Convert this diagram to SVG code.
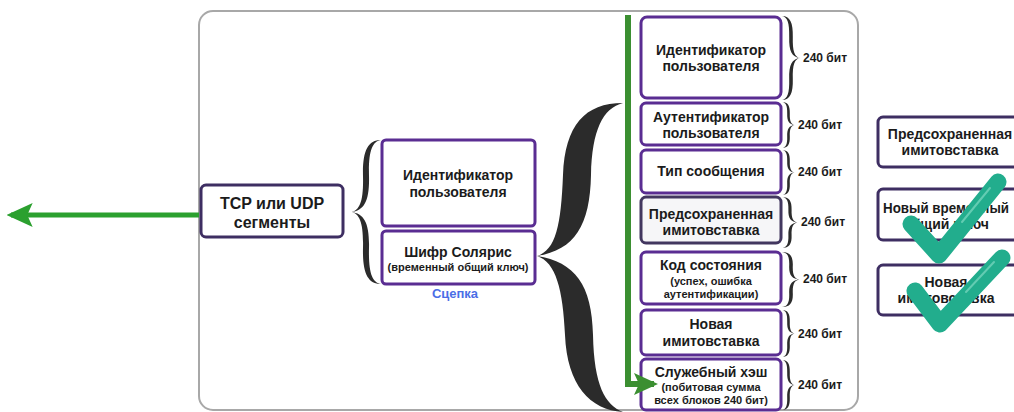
<svg xmlns="http://www.w3.org/2000/svg" width="1014" height="412" viewBox="0 0 1014 412">
  <defs>
    <style>
      .frame { fill: #ffffff; stroke: #a8a8a8; stroke-width: 2; }
      .box { fill: #ffffff; stroke: #5a2d92; stroke-width: 3; }
      .box-dark { fill: #ffffff; stroke: #3e2e62; stroke-width: 3; }
      .box-grey { fill: #f6f6f8; stroke: #42375f; stroke-width: 3; }
      .t { font-family: "Liberation Sans", Arial, sans-serif; font-weight: bold; fill: #1b1b1b; text-anchor: middle; }
      .t16 { font-size: 16px; }
      .t14 { font-size: 14px; }
      .t11 { font-size: 11px; }
      .bits { font-family: "Liberation Sans", Arial, sans-serif; font-weight: bold; font-size: 12px; fill: #1b1b1b; }
      .link { font-family: "Liberation Sans", Arial, sans-serif; font-weight: bold; font-size: 13px; fill: #4a6ee6; text-anchor: middle; }
      .brace { fill: #2b2b2b; }
      .check { fill: none; stroke: #22ad8d; stroke-width: 17; stroke-linecap: round; stroke-linejoin: round; }
      .shine { fill: none; stroke: #7fd8c2; stroke-width: 2; stroke-linecap: round; opacity: 0.7; }
    </style>
    <!-- right-facing curly brace in a 100x100 box, tip at (100,50) -->
    <path id="brace" d="M0,0 C45,0 62,8 60,25 C58,42 70,49 100,50 C70,51 58,58 60,75 C62,92 45,100 0,100 C30,99 42,92 40,75 C38,58 55,51 100,50 C55,49 38,42 40,25 C42,8 30,1 0,0 Z"/>
    <marker id="headLeft" viewBox="0 0 24 24" refX="20" refY="12" markerWidth="26" markerHeight="26" markerUnits="userSpaceOnUse" orient="auto">
      <path d="M0,1 L24,12 L0,23 L5,12 Z" fill="#2ba02f"/>
    </marker>
    <marker id="headDown" viewBox="0 0 24 24" refX="20" refY="12" markerWidth="24" markerHeight="24" markerUnits="userSpaceOnUse" orient="auto">
      <path d="M0,1 L24,12 L0,23 L5,12 Z" fill="#3b8f31"/>
    </marker>
  </defs>

  <rect width="1014" height="412" fill="#ffffff"/>

  <!-- enclosing frame -->
  <rect class="frame" x="199" y="11" width="659" height="399" rx="14"/>

  <g id="segments">
    <rect class="box-dark" x="201" y="185" width="142" height="52" rx="5"/>
    <text class="t t16" x="272" y="209">TCP или UDP</text>
    <text class="t t16" x="272" y="228">сегменты</text>
  </g>

  <g id="user-id">
    <rect class="box" x="382" y="140" width="153" height="86" rx="4" stroke="#4b2c80"/>
    <text class="t t14" x="458" y="180">Идентификатор</text>
    <text class="t t14" x="458" y="197">пользователя</text>
  </g>

  <g id="cipher">
    <rect class="box" x="382" y="231" width="153" height="53" rx="4" stroke="#4b2c80"/>
    <text class="t t14" x="458" y="257">Шифр Солярис</text>
    <text class="t t11" x="458" y="271">(временный общий ключ)</text>
    <text class="link" x="455" y="298">Сцепка</text>
  </g>

  <g id="block-user-id">
    <rect class="box" x="641" y="17" width="140" height="81" rx="6"/>
    <text class="t t14" x="711" y="55">Идентификатор</text>
    <text class="t t14" x="711" y="71">пользователя</text>
  </g>

  <g id="block-authenticator">
    <rect class="box" x="641" y="103" width="140" height="42" rx="5"/>
    <text class="t t14" x="711" y="122">Аутентификатор</text>
    <text class="t t14" x="711" y="138">пользователя</text>
  </g>

  <g id="block-message-type">
    <rect class="box" x="641" y="150" width="140" height="43" rx="5"/>
    <text class="t t14" x="711" y="176">Тип сообщения</text>
  </g>

  <g id="block-prestored-mac">
    <rect class="box-grey" x="641" y="197" width="140" height="46" rx="5"/>
    <text class="t t14" x="711" y="219">Предсохраненная</text>
    <text class="t t14" x="711" y="235">имитовставка</text>
  </g>

  <g id="block-status">
    <rect class="box" x="641" y="252" width="140" height="52" rx="5" stroke="#4f2c86"/>
    <text class="t t14" x="711" y="270">Код состояния</text>
    <text class="t t11" x="711" y="285">(успех, ошибка</text>
    <text class="t t11" x="711" y="298">аутентификации)</text>
  </g>

  <g id="block-new-mac">
    <rect class="box" x="641" y="310" width="140" height="45" rx="5" stroke="#4f2c86"/>
    <text class="t t14" x="711" y="329">Новая</text>
    <text class="t t14" x="711" y="346">имитовставка</text>
  </g>

  <g id="block-hash">
    <rect class="box" x="641" y="359" width="140" height="51" rx="5"/>
    <text class="t t14" x="711" y="377">Служебный хэш</text>
    <text class="t t11" x="711" y="391">(побитовая сумма</text>
    <text class="t t11" x="711" y="404">всех блоков 240 бит)</text>
  </g>

  <g id="out-prestored-mac">
    <rect class="box-dark" x="878" y="117" width="160" height="50" rx="5"/>
    <text class="t t14" x="950" y="139">Предсохраненная</text>
    <text class="t t14" x="950" y="155">имитовставка</text>
  </g>

  <g id="out-new-key">
    <rect class="box-dark" x="878" y="189" width="160" height="51" rx="5"/>
    <text class="t t14" x="946" y="213" textLength="126" lengthAdjust="spacingAndGlyphs">Новый временный</text>
    <text class="t t14" x="946" y="229">общий ключ</text>
  </g>

  <g id="out-new-mac">
    <rect class="box-dark" x="878" y="265" width="160" height="50" rx="5"/>
    <text class="t t14" x="946" y="287">Новая</text>
    <text class="t t14" x="946" y="303">имитовставка</text>
  </g>

  <!-- connectors and braces -->
  <g id="connectors">
    <path d="M199,215 H11" fill="none" stroke="#2ba02f" stroke-width="5" marker-end="url(#headLeft)"/>
    <path d="M628,15 V384 H654" fill="none" stroke="#3b8f31" stroke-width="6" marker-end="url(#headDown)"/>

    <!-- large brace joining the two halves to the block list -->
    <path class="brace" d="M623,103 C585,103 565,125 563,175 C561,225 556,250 537,256 C556,262 563,290 565,335 C567,385 590,410 623,412 C605,405 594,385 593,335 C592,285 575,262 537,256 C575,250 590,225 591,175 C592,130 603,108 623,103 Z"/>

    <!-- brace in front of the pair of blocks -->
    <use href="#brace" class="brace" transform="translate(381,140) scale(-0.3,1.44)"/>

    <!-- per-block size braces -->
    <use href="#brace" class="brace" transform="translate(782,16) scale(0.18,0.84)"/>
    <use href="#brace" class="brace" transform="translate(782,102) scale(0.13,0.46)"/>
    <use href="#brace" class="brace" transform="translate(782,150) scale(0.13,0.45)"/>
    <use href="#brace" class="brace" transform="translate(782,197) scale(0.16,0.51)"/>
    <use href="#brace" class="brace" transform="translate(782,252) scale(0.18,0.55)"/>
    <use href="#brace" class="brace" transform="translate(782,310) scale(0.13,0.47)"/>
    <use href="#brace" class="brace" transform="translate(782,360) scale(0.13,0.50)"/>

    <text class="bits" x="803" y="62">240 бит</text>
    <text class="bits" x="798" y="129">240 бит</text>
    <text class="bits" x="798" y="176">240 бит</text>
    <text class="bits" x="801" y="226">240 бит</text>
    <text class="bits" x="803" y="283">240 бит</text>
    <text class="bits" x="798" y="338">240 бит</text>
    <text class="bits" x="798" y="389">240 бит</text>
  </g>

  <!-- tick marks over the outgoing values -->
  <g id="ticks">
    <path class="check" d="M911,224 L939,255 L998,182"/>
    <path class="shine" d="M962,222 L990,188"/>
    <path class="check" d="M915,291 L940,324 L1002,258"/>
    <path class="shine" d="M966,292 L994,262"/>
  </g>
</svg>
